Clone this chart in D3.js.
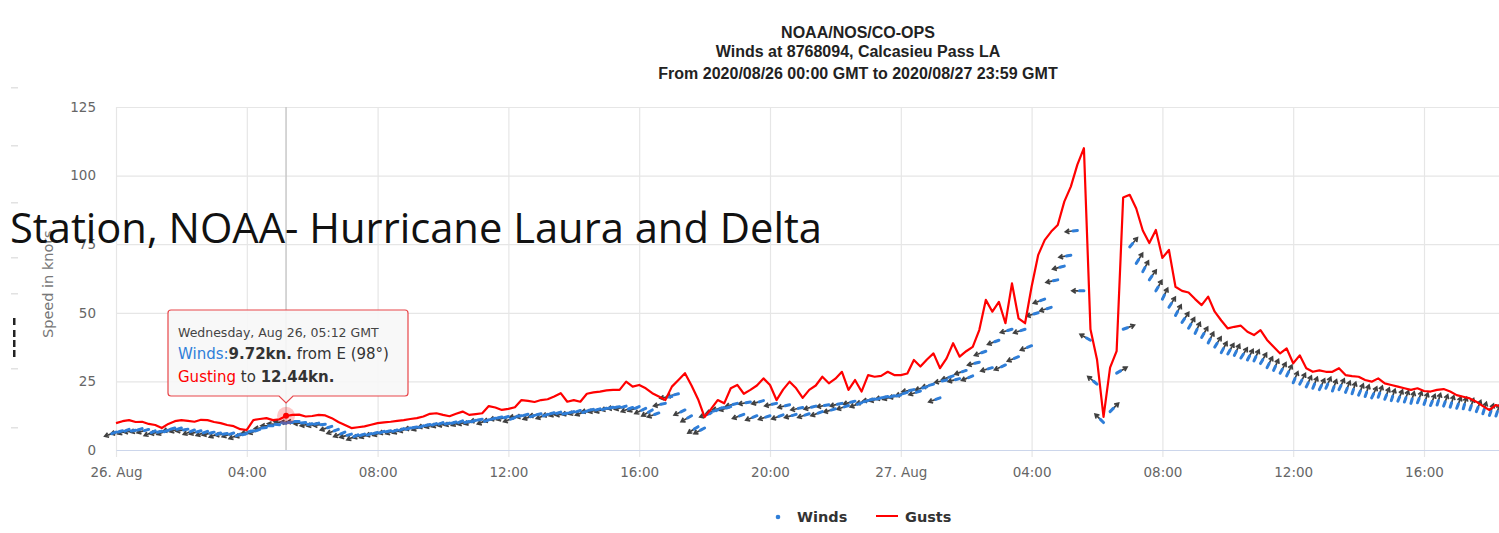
<!DOCTYPE html>
<html>
<head>
<meta charset="utf-8">
<script src="https://cdn.jsdelivr.net/npm/d3@7"></script>
<style>
  html, body { margin: 0; padding: 0; background: #fff; overflow: hidden; }
  svg { display: block; }
</style>
</head>
<body>
<svg id="chart" width="1499" height="533"></svg>
<script>
// 12-minute samples starting 2020-08-26 00:00 GMT
const START = Date.UTC(2020, 7, 26, 0, 0)
const STEP_MIN = 12

const gusts = [
  9.8, 10.5, 10.9, 10.2, 10.3,  9.5, 9.1, 8.0, 9.5, 10.5,
  10.9, 10.6, 10.3, 11.0, 10.9,  10.2, 9.8, 9.1, 8.7, 7.6,
  7.3, 10.9, 11.3, 11.6, 10.9,  11.2, 12.4, 12.8, 12.9, 12.2,
  12.4, 12.8, 12.6, 11.6, 10.2,  9.1, 8.0, 8.3, 8.6, 9.2,
  9.8, 10.1, 10.3, 10.6, 10.9,  11.3, 11.6, 12.2, 13.2, 13.4,
  12.8, 12.3, 13.2, 14.0, 12.8,  13.1, 13.4, 16.0, 15.5, 14.6,
  15.0, 15.6, 18.2, 17.9, 17.5,  18.2, 18.5, 19.5, 20.7, 17.6,
  18.2, 17.6, 20.5, 21.0, 21.3,  21.7, 21.9, 21.9, 24.9, 23.1,
  23.7, 22.5, 20.7, 19.5, 18.2,  23.1, 25.5, 28.0, 23.5, 18.5,
  12.0, 15.0, 18.2, 17.0, 22.5,  23.7, 20.5, 21.9, 23.5, 26.1,
  23.7, 18.2, 22.0, 24.9, 22.5,  19.0, 21.9, 23.5, 26.7, 24.3,
  26.0, 28.5, 21.9, 25.5, 21.3,  27.3, 26.7, 27.0, 28.5, 27.3,
  27.3, 27.9, 32.8, 30.4, 33.0,  35.2, 29.8, 33.4, 38.9, 34.0,
  36.0, 37.6, 43.7, 54.7, 50.4,  54.0, 46.2, 60.7, 48.0, 46.2,
  59.5, 71.0, 76.5, 79.6, 82.0,  90.5, 96.0, 104.0, 110.0, 44.0,
  33.0, 12.1, 30.0, 36.0, 92.0,  93.0, 88.0, 80.0, 75.4, 80.2,
  70.0, 72.9, 59.5, 58.0, 57.4,  55.0, 52.8, 55.9, 50.4, 47.2,
  44.3, 44.9, 45.3, 43.1, 41.9,  43.7, 40.1, 37.6, 35.2, 37.0,
  31.6, 34.5, 29.8, 28.5, 29.0,  28.5, 28.5, 29.8, 27.3, 26.9,
  26.7, 25.5, 24.9, 26.1, 24.3,  23.7, 23.1, 22.5, 21.9, 22.5,
  21.5, 21.3, 21.9, 22.2, 21.3,  20.0, 19.4, 18.8, 17.6, 16.0,
  14.6, 16.4, 15.8, 16.5
]

const winds = [
  6.5, 7.0, 7.5, 7.2, 7.8,  7.5, 7.0, 6.8, 7.2, 8.0,
  8.0, 7.6, 7.3, 7.0, 6.8,  6.5, 6.2, 6.0, 6.2, 5.8,
  6.0, 7.0, 7.5, 8.2, 8.8,  9.2, 9.7, 10.0, 10.4, 10.0,
  9.6, 9.8, 9.4, 8.6, 7.5,  6.5, 5.8, 5.5, 5.8, 6.0,
  6.4, 6.8, 7.0, 7.3, 7.8,  8.0, 8.4, 8.8, 9.3, 9.6,
  10.0, 9.8, 10.2, 10.6, 10.4,  10.8, 11.2, 11.0, 11.6, 12.0,
  12.2, 11.8, 12.5, 13.0, 12.6,  13.2, 13.0, 13.6, 13.8, 13.4,
  14.0, 14.4, 14.2, 14.8, 15.0,  15.2, 15.6, 15.8, 16.0, 15.5,
  15.8, 15.2, 14.6, 13.5, 17.0,  19.5, 20.5, 14.6, 12.5, 8.5,
  8.0, 13.5, 14.6, 15.5, 15.8,  17.0, 13.0, 17.5, 12.5, 18.0,
  12.5, 17.0, 12.8, 16.5, 13.0,  15.5, 13.2, 16.0, 14.0, 16.5,
  15.0, 17.0, 16.2, 17.8, 17.2,  18.0, 18.6, 19.0, 19.5, 19.8,
  20.0, 21.0, 22.0, 21.5, 23.0,  24.0, 19.0, 25.5, 27.0, 26.0,
  29.0, 27.0, 32.0, 36.0, 30.0,  40.0, 31.0, 44.0, 34.0, 44.0,
  38.0, 50.0, 55.0, 52.0, 62.0,  67.0, 71.0, 80.0, 58.0, 40.0,
  24.0, 10.0, 14.0, 28.0, 44.0,  74.0, 68.0, 65.0, 62.0, 58.0,
  55.0, 52.0, 49.0, 46.5, 44.4,  42.5, 41.0, 39.0, 37.5, 35.5,
  35.0, 34.5, 33.5, 32.8, 32.5,  31.5, 30.0, 29.0, 28.0, 27.0,
  24.5, 24.0, 23.0, 22.5, 22.0,  22.5, 21.5, 22.0, 21.0, 20.5,
  20.0, 19.5, 19.0, 19.2, 18.5,  18.0, 17.8, 17.5, 17.0, 17.2,
  16.6, 16.2, 16.4, 16.0, 15.6,  15.2, 15.0, 14.6, 14.0, 13.2,
  12.6, 12.4, 12.2, 12.6
]

// direction the wind comes FROM, degrees
const windFrom = [
  70, 75, 68, 80, 72,  74, 66, 78, 70, 75,
  72, 80, 68, 74, 70,  76, 70, 82, 72, 68,
  74, 78, 70, 85, 90,  95, 98, 92, 88, 85,
  80, 76, 84, 72, 70,  68, 74, 66, 72, 70,
  75, 70, 78, 72, 68,  74, 80, 70, 76, 72,
  70, 78, 74, 68, 76,  72, 80, 70, 75, 78,
  74, 70, 82, 76, 72,  78, 70, 75, 72, 80,
  76, 72, 70, 78, 74,  72, 76, 80, 74, 70,
  68, 64, 60, 70, 78,  82, 76, 65, 60, 58,
  62, 70, 74, 78, 72,  76, 70, 80, 68, 74,
  72, 78, 70, 76, 74,  78, 72, 76, 70, 80,
  74, 78, 72, 76, 70,  76, 80, 74, 78, 72,
  78, 74, 80, 72, 76,  74, 70, 78, 72, 76,
  72, 68, 76, 70, 74,  70, 66, 74, 68, 72,
  68, 74, 70, 72, 78,  76, 80, 84, 90, 120,
  130, 135, 225, 240, 250,  220, 212, 208, 215, 210,
  206, 212, 208, 214, 210,  205, 210, 207, 212, 208,
  210, 206, 212, 208, 205,  210, 207, 204, 209, 206,
  203, 208, 205, 202, 206,  204, 200, 206, 202, 198,
  203, 199, 205, 200, 202,  198, 203, 200, 196, 201,
  199, 202, 197, 200, 198,  201, 196, 199, 202, 197,
  200, 198, 201, 199
]

const yTicks = [0, 25, 50, 75, 100, 125]
const titleLines = [
  'NOAA/NOS/CO-OPS',
  'Winds at 8768094, Calcasieu Pass LA',
  'From 2020/08/26 00:00 GMT to 2020/08/27 23:59 GMT'
]
const overlayText = 'Station, NOAA- Hurricane Laura and Delta'
const hover = { time: Date.UTC(2020, 7, 26, 5, 12), wind: 9.72, gust: 12.44, dir: 'E', deg: 98 }

const blue = '#2f7ed8'
const red = '#ff0000'
const labelFont = '"DejaVu Sans", Verdana, sans-serif'

const svg = d3.select('#chart')
svg.append('rect').attr('width', 1499).attr('height', 533).attr('fill', '#fff')

const plot = { left: 116, top: 107, bottom: 450 }
const hourPx = 32.7

const x = d3.scaleUtc()
  .domain([new Date(START), new Date(START + 48 * 3600e3)])
  .range([plot.left, plot.left + 48 * hourPx])
const y = d3.scaleLinear().domain([0, 125]).range([plot.bottom, plot.top])

// only the ticks that fall inside the photographed window
const xTicks = d3.utcHour.every(4).range(x.domain()[0], x.domain()[1]).filter(t => x(t) < 1480)

const rows = gusts.map((g, i) => ({
  t: new Date(START + i * STEP_MIN * 60e3),
  gust: g,
  wind: winds[i],
  from: windFrom[i],
}))

// faint slide marks on the far left
const marks = svg.append('g')
;[87, 145, 202, 257, 293, 368, 427].forEach(v => {
  marks.append('rect').attr('x', 11).attr('y', v).attr('width', 7).attr('height', 1.5).attr('fill', '#e2e2e2')
})
;[318, 330, 340, 350].forEach(v => {
  marks.append('rect').attr('x', 13).attr('y', v).attr('width', 2.5).attr('height', 7).attr('fill', '#222')
})

// title
svg.append('g')
  .selectAll('text')
  .data(titleLines)
  .enter()
  .append('text')
  .attr('x', 858)
  .attr('y', (d, i) => [38, 57, 79][i])
  .attr('text-anchor', 'middle')
  .attr('font-family', '"Liberation Sans", Arial, sans-serif')
  .attr('font-weight', 'bold')
  .attr('font-size', '16px')
  .attr('fill', '#222')
  .text(d => d)

// y grid + labels
const yAxis = svg.append('g')
  .attr('transform', `translate(${plot.left},0)`)
  .call(d3.axisLeft(y).tickValues(yTicks).tickSize(-1600).tickPadding(20))
yAxis.select('.domain').remove()
yAxis.selectAll('.tick line').attr('stroke', '#e6e6e6').attr('stroke-width', 1.2)
yAxis.selectAll('.tick text')
  .attr('fill', '#666')
  .attr('font-family', labelFont)
  .attr('font-size', '13.5px')

// x grid
const xGrid = svg.append('g')
  .attr('transform', `translate(0,${plot.bottom + 7})`)
  .call(d3.axisBottom(x).tickValues(xTicks).tickSize(-(plot.bottom + 7 - plot.top)).tickFormat(''))
xGrid.select('.domain').remove()
xGrid.selectAll('.tick line').attr('stroke', '#e6e6e6').attr('stroke-width', 1.2)

// x axis line + labels
const fmt = d => (d.getUTCHours() === 0 ? d3.utcFormat('%d. %b')(d) : d3.utcFormat('%H:%M')(d))
const xAxis = svg.append('g')
  .attr('transform', `translate(0,${plot.bottom})`)
  .call(d3.axisBottom(x).tickValues(xTicks).tickSize(0).tickPadding(17).tickFormat(fmt))
xAxis.select('.domain').attr('stroke', '#ccd6eb').attr('stroke-width', 1.2)
xAxis.selectAll('.tick text')
  .attr('fill', '#666')
  .attr('font-family', labelFont)
  .attr('font-size', '13.5px')

// y axis title
svg.append('text')
  .attr('transform', 'translate(53,338) rotate(-90)')
  .attr('fill', '#777')
  .attr('font-family', labelFont)
  .attr('font-size', '14.5px')
  .text('Speed in knots')

// crosshair
svg.append('line')
  .attr('x1', x(new Date(hover.time))).attr('x2', x(new Date(hover.time)))
  .attr('y1', plot.top).attr('y2', plot.bottom)
  .attr('stroke', '#c8c8c8').attr('stroke-width', 1.5)

// wind vectors
const L = 12
const vec = d => {
  const a = ((d.from + 180) * Math.PI) / 180
  return [Math.sin(a), -Math.cos(a)]
}
const arrowPath = d => {
  const px = x(d.t)
  const py = y(d.wind)
  const [dx, dy] = vec(d)
  const tx = px + dx * L
  const ty = py + dy * L
  const ang = Math.atan2(dy, dx)
  const h = 4.5
  const h1x = tx - h * Math.cos(ang - 0.55)
  const h1y = ty - h * Math.sin(ang - 0.55)
  const h2x = tx - h * Math.cos(ang + 0.55)
  const h2y = ty - h * Math.sin(ang + 0.55)
  return `M${px},${py}L${tx},${ty}M${h1x},${h1y}L${tx},${ty}L${h2x},${h2y}`
}

svg.append('g')
  .selectAll('path')
  .data(rows)
  .enter()
  .append('path')
  .attr('d', arrowPath)
  .attr('fill', 'none')
  .attr('stroke', '#2b2b2b')
  .attr('stroke-opacity', 0.9)
  .attr('stroke-width', 1.7)

svg.append('g')
  .selectAll('line')
  .data(rows)
  .enter()
  .append('line')
  .attr('x1', d => x(d.t))
  .attr('y1', d => y(d.wind))
  .attr('x2', d => x(d.t) + vec(d)[0] * 4.5)
  .attr('y2', d => y(d.wind) + vec(d)[1] * 4.5)
  .attr('stroke', blue)
  .attr('stroke-width', 3)
  .attr('stroke-linecap', 'round')

// gusts
svg.append('path')
  .datum(rows)
  .attr('fill', 'none')
  .attr('stroke', red)
  .attr('stroke-width', 2.2)
  .attr('stroke-linejoin', 'round')
  .attr('d', d3.line().x(d => x(d.t)).y(d => y(d.gust)))

// hover halo
const hx = x(new Date(hover.time))
const hy = y(hover.gust)
svg.append('circle').attr('cx', hx).attr('cy', hy).attr('r', 9).attr('fill', red).attr('fill-opacity', 0.22)
svg.append('circle').attr('cx', hx).attr('cy', hy).attr('r', 3).attr('fill', red)

// tooltip
const tip = { x0: 168, y0: 310, x1: 408, y1: 396, r: 3 }
const { x0, y0, x1, y1, r } = tip
svg.append('path')
  .attr('d', `M${x0 + r},${y0}H${x1 - r}Q${x1},${y0} ${x1},${y0 + r}V${y1 - r}Q${x1},${y1} ${x1 - r},${y1}` +
    `H${hx + 7}L${hx},${y1 + 7}L${hx - 7},${y1}H${x0 + r}Q${x0},${y1} ${x0},${y1 - r}V${y0 + r}Q${x0},${y0} ${x0 + r},${y0}Z`)
  .attr('fill', '#f7f7f7')
  .attr('fill-opacity', 0.9)
  .attr('stroke', '#e8464a')
  .attr('stroke-width', 1.2)

const tt = svg.append('g').attr('font-family', labelFont).attr('fill', '#333')
tt.append('text').attr('x', 178).attr('y', 337).attr('font-size', '12.5px').attr('fill', '#444')
  .text('Wednesday, Aug 26, 05:12 GMT')
const l2 = tt.append('text').attr('x', 178).attr('y', 359).attr('font-size', '15px')
l2.append('tspan').attr('fill', blue).text('Winds:')
l2.append('tspan').attr('font-weight', 'bold').text(`${hover.wind}kn.`)
l2.append('tspan').text(' from ')
l2.append('tspan').text(`${hover.dir} (${hover.deg}°)`)
const l3 = tt.append('text').attr('x', 178).attr('y', 382).attr('font-size', '15px')
l3.append('tspan').attr('fill', red).text('Gusting')
l3.append('tspan').text(' to ')
l3.append('tspan').attr('font-weight', 'bold').text(`${hover.gust}kn.`)

// legend
const lg = svg.append('g').attr('font-family', labelFont).attr('font-weight', 'bold').attr('font-size', '14.5px').attr('fill', '#333')
lg.append('circle').attr('cx', 778).attr('cy', 517).attr('r', 2.3).attr('fill', blue)
lg.append('text').attr('x', 797).attr('y', 522).text('Winds')
lg.append('line').attr('x1', 876).attr('x2', 898).attr('y1', 516).attr('y2', 516).attr('stroke', red).attr('stroke-width', 2)
lg.append('text').attr('x', 905).attr('y', 522).text('Gusts')

// slide overlay text
const ov = svg.append('text')
  .attr('x', 10)
  .attr('y', 243)
  .attr('font-family', '"Open Sans", "Noto Sans", sans-serif')
  .attr('font-size', '40px')
  .attr('fill', '#111')
  .text(overlayText)
const w = ov.node().getComputedTextLength()
ov.attr('font-size', `${(40 * 812) / w}px`)
</script>
</body>
</html>
